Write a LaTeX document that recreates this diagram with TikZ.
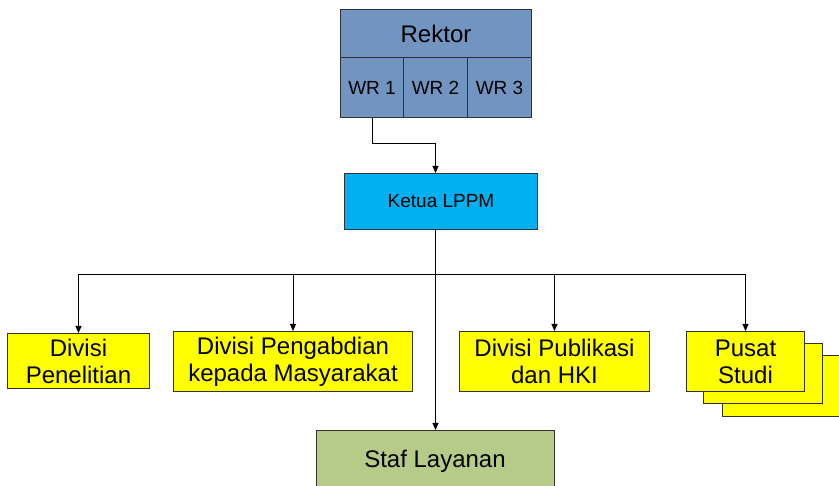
\documentclass[tikz,border=0pt]{standalone}
\usepackage{fontspec}
\setmainfont{Liberation Sans}
\usetikzlibrary{arrows.meta}
\definecolor{rekfill}{RGB}{114,148,192}
\definecolor{ketfill}{RGB}{0,176,240}
\definecolor{yel}{RGB}{255,255,0}
\definecolor{stafill}{RGB}{183,203,136}
\definecolor{edge}{RGB}{50,50,50}
\tikzset{
  box/.style={draw=edge, line width=1pt, anchor=north west, inner sep=0pt, align=center},
  arr/.style={draw=black, line width=0.9pt, -{Triangle[length=7pt,width=6pt]}},
  conn/.style={draw=black, line width=0.9pt},
}
\newcommand{\fs}[2]{\fontsize{#1}{#2}\selectfont}
\begin{document}
\begin{tikzpicture}[x=1pt,y=-1pt]
\useasboundingbox (0,0) rectangle (839,486);
\clip (0,0) rectangle (839,486);
% Rektor block
\node[box, fill=rekfill, minimum width=191pt, minimum height=48pt, font=\fs{24}{28}] (rektor) at (340,9) {Rektor};
\node[box, fill=rekfill, minimum width=63pt, minimum height=60pt, font=\fs{19}{22}] (wr1) at (340,57) {WR 1};
\node[box, fill=rekfill, minimum width=64pt, minimum height=60pt, font=\fs{19}{22}] (wr2) at (403,57) {WR 2};
\node[box, fill=rekfill, minimum width=64pt, minimum height=60pt, font=\fs{19}{22}] (wr3) at (467,57) {WR 3};
% Ketua
\node[box, fill=ketfill, minimum width=193pt, minimum height=56pt, font=\fs{19}{22}] (ketua) at (344,173) {Ketua LPPM};
% Divisions
\node[box, fill=yel, minimum width=142pt, minimum height=55pt, font=\fs{24}{27}] (div1) at (7,333) {Divisi\\Penelitian};
\node[box, fill=yel, minimum width=239pt, minimum height=60pt, font=\fs{24}{27}] (div2) at (173,331) {Divisi Pengabdian\\kepada Masyarakat};
\node[box, fill=yel, minimum width=190pt, minimum height=60pt, font=\fs{24}{27}] (div3) at (459,331) {Divisi Publikasi\\dan HKI};
\node[box, fill=yel, minimum width=120pt, minimum height=61pt] (ps3) at (722,355) {};
\node[box, fill=yel, minimum width=119pt, minimum height=60pt] (ps2) at (703,343) {};
\node[box, fill=yel, minimum width=118pt, minimum height=60pt, font=\fs{24}{27}] (ps) at (686,331) {Pusat\\Studi};
% Staf
\node[box, fill=stafill, minimum width=238pt, minimum height=80pt] (staf) at (316,430) {};
\node[font=\fs{24}{27}] (staft) at (435,461) {Staf Layanan};
% connectors
\draw[arr] (wr1.south) -- ++(0,25) -| (ketua.north -| staf.north);
\coordinate (bus) at (435,274);
\draw[conn] (bus -| div1.north) -- (bus -| ps.north);
\draw[arr] (ketua.south -| staf.north) -- (staf.north);
\draw[arr] (bus -| div1.north) -- (div1.north);
\draw[arr] (bus -| div2.north) -- (div2.north);
\draw[arr] (bus -| div3.north) -- (div3.north);
\draw[arr] (bus -| ps.north) -- (ps.north);
\end{tikzpicture}
\end{document}
